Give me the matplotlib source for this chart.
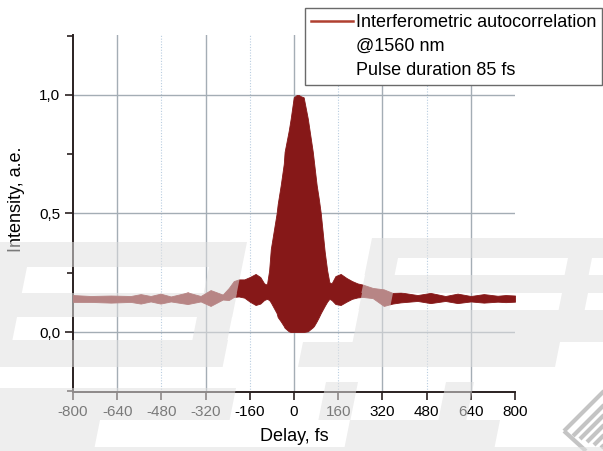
import matplotlib
matplotlib.use('Agg')
import matplotlib.pyplot as plt
from matplotlib.patches import Polygon
from matplotlib.lines import Line2D

plt.rcParams['font.family'] = ['Liberation Sans', 'DejaVu Sans']

# envelope of the interferometric trace (delay in fs, intensity in a.e.)
delay = [-800, -736, -663, -591, -555, -519, -483, -446, -385, -338, -302, -258,
         -236, -218, -200, -180, -160, -139, -122, -108, -98, -90, -84, -77, -63, -59, -48,
         -37, -34, -19, -12, -1, 10, 17, 24, 35, 50, 68, 72, 82, 90, 97, 111, 120, 128,
         136, 150, 169, 190, 210, 230, 249, 285, 325, 357, 386, 447, 494, 548, 592, 640,
         687, 737, 766, 800]
upper = [0.156, 0.152, 0.154, 0.152, 0.160, 0.152, 0.162, 0.150, 0.167, 0.152, 0.177, 0.158,
         0.186, 0.215, 0.222, 0.222, 0.232, 0.245, 0.232, 0.205, 0.20, 0.26, 0.35, 0.40, 0.50, 0.54, 0.62,
         0.71, 0.76, 0.85, 0.90, 0.99, 1.0, 1.0, 0.995, 0.99, 0.90, 0.76, 0.72, 0.62, 0.56, 0.50, 0.34, 0.26, 0.21,
         0.205, 0.236, 0.245, 0.228, 0.215, 0.205, 0.20, 0.186, 0.18, 0.165, 0.167, 0.156, 0.165, 0.152, 0.162, 0.152,
         0.160, 0.153, 0.156, 0.154]
lower = [0.127, 0.127, 0.124, 0.127, 0.120, 0.129, 0.120, 0.129, 0.118, 0.129, 0.110, 0.137,
         0.135, 0.148, 0.150, 0.145, 0.128, 0.114, 0.12, 0.135, 0.14, 0.135, 0.125, 0.110, 0.08, 0.063, 0.045,
         0.025, 0.018, 0.003, 0.0, 0.0, 0.0, 0.0, 0.0, 0.0, 0.003, 0.02, 0.025, 0.045, 0.063, 0.08, 0.110, 0.128, 0.14,
         0.135, 0.118, 0.114, 0.128, 0.14, 0.146, 0.148, 0.143, 0.11, 0.12, 0.125, 0.131, 0.122, 0.131, 0.122, 0.129,
         0.124, 0.128, 0.126, 0.128]

xticks = [-800, -640, -480, -320, -160, 0, 160, 320, 480, 640, 800]
yticks = [0.0, 0.5, 1.0]
ytick_labels = ['0,0', '0,5', '1,0']
legend_lines = ['Interferometric autocorrelation', '@1560 nm', 'Pulse duration 85 fs']

W, H = 603, 451
fig = plt.figure(figsize=(W / 100, H / 100), dpi=100)
ax = fig.add_axes([73 / W, 1 - 392 / H, 442 / W, 357 / H])

trace_col = '#861818'
ax.fill_between(delay, lower, upper, color=trace_col, lw=0.6, zorder=3)

ax.set_xlim(-800, 800)
ax.set_ylim(-0.253, 1.253)

# grid: solid every 320, dotted in between
for x in [-640, -320, 0, 320, 640]:
    ax.axvline(x, color='#a4adb5', lw=1.0, zorder=1)
for x in [-480, -160, 160, 480]:
    ax.axvline(x, color='#b9cde0', lw=0.8, ls=(0, (1, 1.5)), zorder=1)
for y in yticks:
    ax.axhline(y, color='#a4adb5', lw=1.0, zorder=1)

ax.set_xticks(xticks)
ax.set_xticklabels([str(t) for t in xticks], fontsize=11)
ax.set_yticks(yticks)
ax.set_yticklabels(ytick_labels, fontsize=11)
ax.set_yticks([-0.25, 0.25, 0.75, 1.25], minor=True)
ax.tick_params(axis='both', which='major', direction='out', length=6, width=1.2,
               color='#2a2020', pad=3)
ax.tick_params(axis='y', which='minor', direction='out', length=4, width=1.2, color='#2a2020')

for side in ['top', 'right']:
    ax.spines[side].set_visible(False)
for side in ['left', 'bottom']:
    ax.spines[side].set_color('#2a2020')
    ax.spines[side].set_linewidth(1.4)

ax.set_xlabel('Delay, fs', fontsize=13)
ax.set_ylabel('Intensity, a.e.', fontsize=13)
ax.xaxis.set_label_coords(0.5, -0.10)
ax.yaxis.set_label_coords(-0.108, 0.54)

handles = [Line2D([], [], color='#b04030', lw=1.8),
           Line2D([], [], color='none'),
           Line2D([], [], color='none')]
leg = fig.legend(handles, legend_lines, loc='upper left',
                 bbox_to_anchor=(305 / W, 1 - 8 / H), borderaxespad=0,
                 fontsize=13, handlelength=2.3, handletextpad=0.15,
                 labelspacing=0.38, borderpad=0.35, fancybox=False,
                 edgecolor='#6a6a6a', framealpha=1)
leg.get_frame().set_linewidth(1.0)

# faint watermark laid over the picture (pixel coords from the top-left)
def band(y0, y1, x0, x1, s=0.2):
    d = s * (y1 - y0)
    pts = [(x0, y0), (x1, y0), (x1 - d, y1), (x0 - d, y1)]
    return [(px / W, 1 - py / H) for px, py in pts]

wm = [band(242, 267, -50, 247), band(267, 293, -50, 27), band(267, 293, 209, 242),
      band(293, 317, -50, 237), band(317, 340, -50, 17), band(317, 340, 197, 232),
      band(340, 367, -50, 228),
      band(238, 258, 372, 640), band(258, 275, 368, 398), band(258, 275, 568, 592),
      band(275, 293, 365, 640), band(293, 310, 362, 393), band(293, 310, 562, 588),
      band(310, 342, 359, 640), band(342, 367, 303, 560),
      band(388, 420, -50, 236), band(382, 420, 326, 358), band(382, 420, 446, 474),
      band(420, 447, -50, 100), band(420, 447, 350, 500), band(447, 470, -50, 640)]
for pts in wm:
    fig.patches.append(Polygon(pts, closed=True, transform=fig.transFigure,
                               facecolor='#e0e0e0', edgecolor='none', alpha=0.55, zorder=3))

# hatched corner mark
def seg(x0, y0, x1, y1):
    return Line2D([x0 / W, x1 / W], [1 - y0 / H, 1 - y1 / H], transform=fig.transFigure,
                  color='#c4c4c4', lw=3, zorder=3, solid_capstyle='butt')

fig.lines.append(seg(586, 451, 564, 431))
fig.lines.append(seg(564, 431, 608, 387))
for k in range(1, 6):
    x0, y0 = 566 + 7 * k, 433 + 3 * k
    fig.lines.append(seg(x0, y0, x0 + 40, y0 - 40))

fig.savefig('out.png', dpi=100)
